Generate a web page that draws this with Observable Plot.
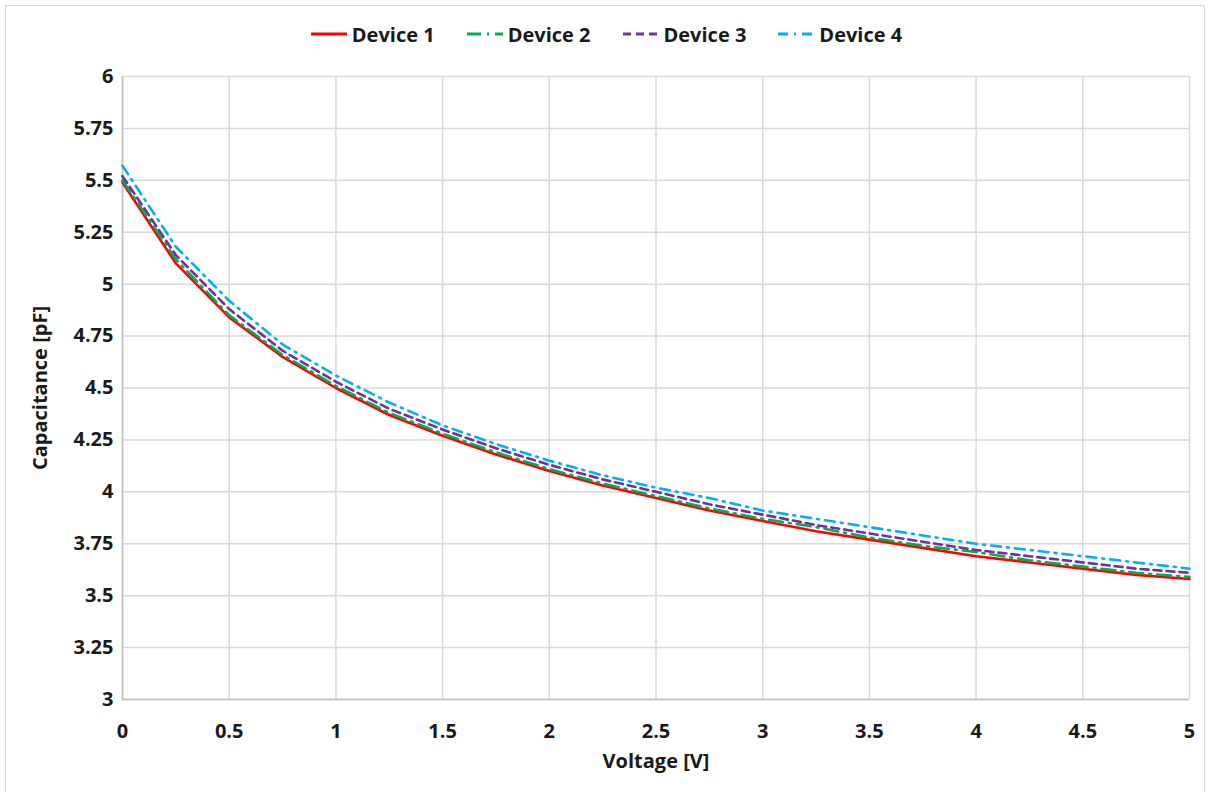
<!DOCTYPE html>
<html>
<head>
<meta charset="utf-8">
<script src="https://cdn.jsdelivr.net/npm/d3@7"></script>
<script src="https://cdn.jsdelivr.net/npm/@observablehq/plot@0.6"></script>
<style>
  html, body { margin: 0; padding: 0; background: #fff; }
  body { font-family: "Open Sans", sans-serif; font-weight: 700; color: #1a1a1a; }
  #wrap { position: relative; width: 1211px; height: 792px; overflow: hidden; }
  #border { position: absolute; left: 5px; top: 5px; width: 1200px; height: 800px; border: 1px solid #d9d9d9; box-sizing: border-box; pointer-events: none; }
  #legend { height: 60px; display: flex; justify-content: center; align-items: center; padding-left: 2px; padding-top: 8px; box-sizing: border-box; }
  .item { display: flex; align-items: center; font-size: 20px; margin: 0 16px; }
  .item svg { margin-right: 5px; }
  #chart svg { display: block; }
</style>
</head>
<body>
<div id="wrap">
  <div id="border"></div>
  <div id="legend"></div>
  <div id="chart"></div>
</div>
<script>
const voltage = [0, 0.25, 0.5, 0.75, 1, 1.25, 1.5, 1.75, 2, 2.25, 2.5, 2.75, 3, 3.25, 3.5, 3.75, 4, 4.25, 4.5, 4.75, 5];
const device1 = [5.49, 5.10, 4.84, 4.65, 4.50, 4.37, 4.27, 4.18, 4.10, 4.03, 3.97, 3.91, 3.86, 3.81, 3.77, 3.73, 3.69, 3.66, 3.63, 3.60, 3.58];
const device2 = [5.50, 5.12, 4.85, 4.66, 4.51, 4.38, 4.28, 4.19, 4.11, 4.04, 3.98, 3.92, 3.87, 3.83, 3.78, 3.74, 3.71, 3.67, 3.64, 3.61, 3.59];
const device3 = [5.52, 5.14, 4.88, 4.68, 4.53, 4.40, 4.30, 4.21, 4.13, 4.06, 4.00, 3.94, 3.89, 3.84, 3.80, 3.76, 3.72, 3.69, 3.66, 3.63, 3.61];
const device4 = [5.57, 5.18, 4.92, 4.71, 4.56, 4.43, 4.32, 4.23, 4.15, 4.08, 4.02, 3.97, 3.91, 3.87, 3.83, 3.79, 3.75, 3.72, 3.69, 3.66, 3.63];
const seriesNames = ["Device 1", "Device 2", "Device 3", "Device 4"];
const seriesColors = ["#ff0000", "#00b050", "#7030a0", "#00b0f0"];
const seriesDash = [null, "14 6 2 6", "8 5", "10 6 2 6"];
const xTicks = [0, 0.5, 1, 1.5, 2, 2.5, 3, 3.5, 4, 4.5, 5];
const yTicks = [3, 3.25, 3.5, 3.75, 4, 4.25, 4.5, 4.75, 5, 5.25, 5.5, 5.75, 6];

const allSeries = [device1, device2, device3, device4];

// Legend
const legend = document.getElementById("legend");
seriesNames.forEach((name, i) => {
  const item = document.createElement("div");
  item.className = "item";
  const dash = seriesDash[i] ? `stroke-dasharray="${seriesDash[i]}"` : "";
  item.innerHTML = `<svg width="36" height="10"><line x1="0" y1="5" x2="36" y2="5" stroke="${seriesColors[i]}" stroke-width="3" ${dash}/></svg><span>${name}</span>`;
  legend.appendChild(item);
});

const marks = [
  Plot.ruleX(xTicks, {stroke: "#d9d9d9", strokeWidth: 1.5}),
  Plot.ruleY(yTicks, {stroke: "#d9d9d9", strokeWidth: 1.5}),
  Plot.ruleX([0], {stroke: "#bfbfbf", strokeWidth: 1.5}),
  Plot.ruleY([3], {stroke: "#bfbfbf", strokeWidth: 1.5}),
  Plot.axisX(xTicks, {tickSize: 0, tickPadding: 24, fontSize: 20, fontWeight: 700, label: "Voltage [V]", labelAnchor: "center", labelArrow: "none", labelOffset: 68, tickFormat: d => String(d)}),
  Plot.axisY(yTicks, {tickSize: 0, tickPadding: 9, fontSize: 20, fontWeight: 700, label: "Capacitance [pF]", labelAnchor: "center", labelArrow: "none", labelOffset: 90, tickFormat: d => String(d)})
];
allSeries.forEach((vals, i) => {
  marks.push(Plot.line(voltage.map((v, j) => ({x: v, y: vals[j]})), {
    x: "x", y: "y", stroke: seriesColors[i], strokeWidth: 2.6,
    strokeDasharray: seriesDash[i] || undefined, strokeLinejoin: "round", curve: "linear"
  }));
});

const chart = Plot.plot({
  width: 1211,
  height: 732,
  marginLeft: 122,
  marginRight: 22,
  marginTop: 16,
  marginBottom: 93,
  style: {fontFamily: "'Open Sans', sans-serif", fontWeight: 700, color: "#1a1a1a", background: "transparent", fontSize: "20px"},
  x: {domain: [0, 5]},
  y: {domain: [3, 6]},
  marks
});
document.getElementById("chart").appendChild(chart);
</script>
</body>
</html>
